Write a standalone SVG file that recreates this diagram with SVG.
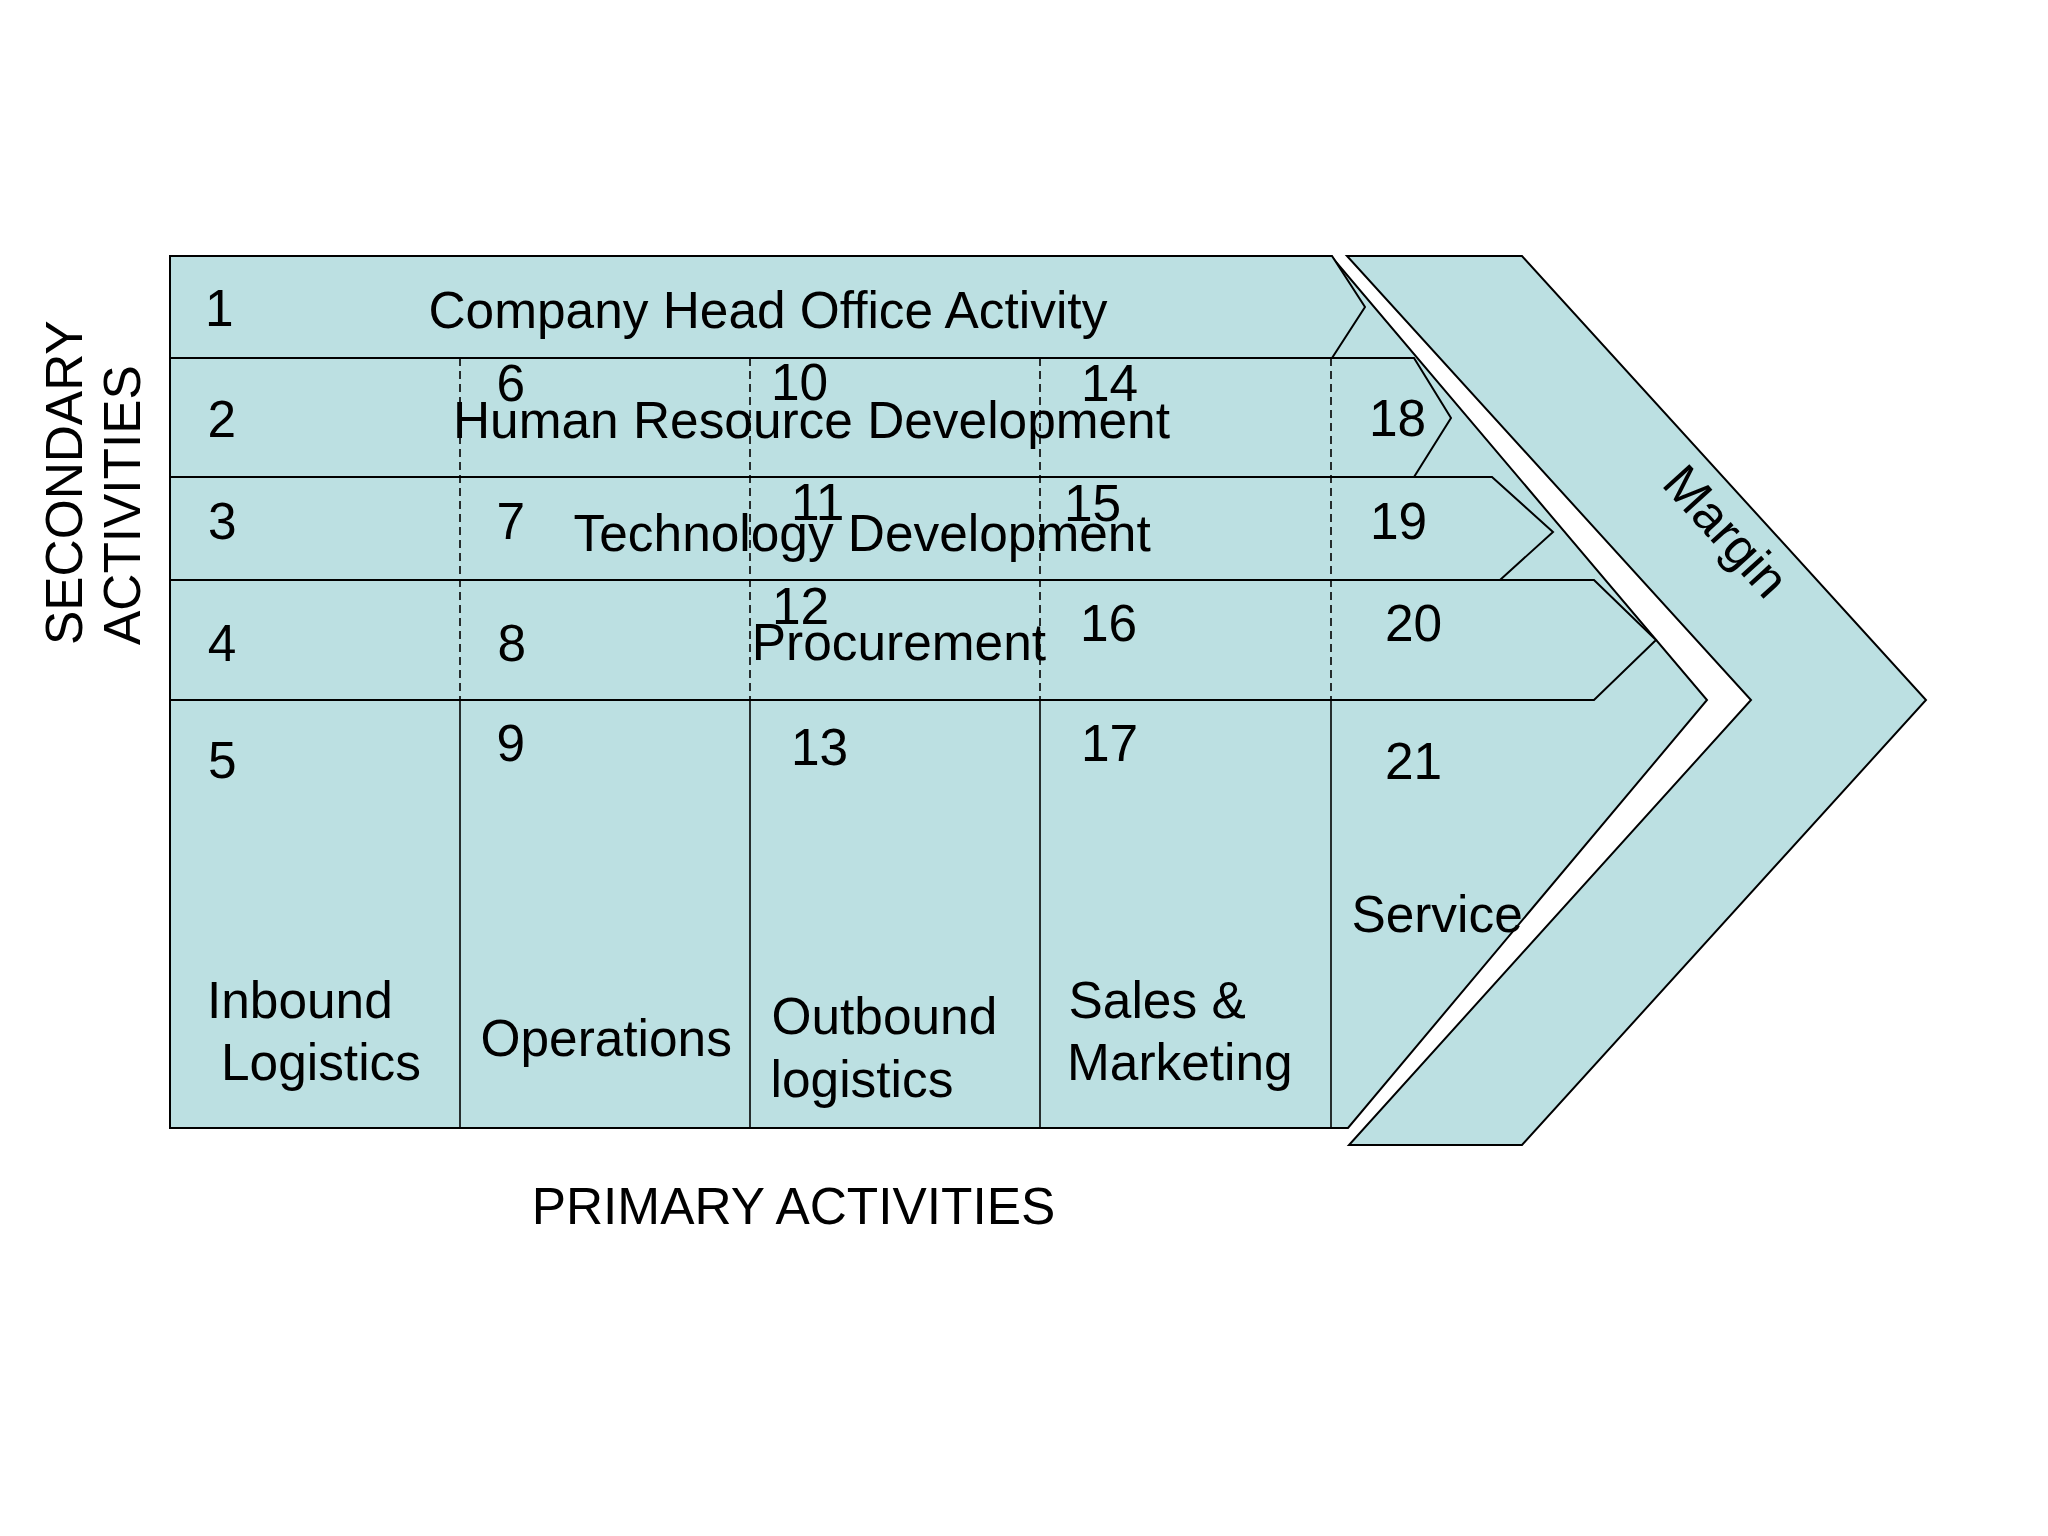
<svg xmlns="http://www.w3.org/2000/svg" width="2048" height="1536" viewBox="0 0 2048 1536">
<style>
.s{fill:#BCE0E2;stroke:#000;stroke-width:2;stroke-linejoin:miter}
.d{stroke:#000;stroke-width:1.6;stroke-dasharray:8 5;fill:none}
.v{stroke:#000;stroke-width:1.6;fill:none}
text{font-family:"Liberation Sans",Arial,sans-serif;font-size:51.4px;fill:#000}
</style>
<rect width="2048" height="1536" fill="#fff"/>
<g id="margin">
<polygon class="s" points="1347,256 1522,256 1926,700 1522,1145 1349,1145 1751,700"/>
<text transform="translate(1713,543) rotate(47.9)" text-anchor="middle">Margin</text>
</g>
<g id="body">
<polygon class="s" points="170,256 1331,256 1707,700 1348,1128 170,1128"/>
</g>
<g id="row1">
<polygon class="s" points="170,256 1332,256 1365,307 1332,358 170,358"/>
</g>
<g id="row2">
<polygon class="s" points="170,358 1414,358 1451,418 1414,477 170,477"/>
</g>
<g id="row3">
<polygon class="s" points="170,477 1492,477 1553,532 1500,580 170,580"/>
</g>
<g id="row4">
<polygon class="s" points="170,580 1594,580 1656,640 1594,700 170,700"/>
</g>
<g id="connectors">
<line class="d" x1="460" y1="358" x2="460" y2="700"/>
<line class="d" x1="750" y1="358" x2="750" y2="700"/>
<line class="d" x1="1040" y1="358" x2="1040" y2="700"/>
<line class="d" x1="1331" y1="358" x2="1331" y2="700"/>
<line class="v" x1="460" y1="700" x2="460" y2="1128"/>
<line class="v" x1="750" y1="700" x2="750" y2="1128"/>
<line class="v" x1="1040" y1="700" x2="1040" y2="1128"/>
<line class="v" x1="1331" y1="700" x2="1331" y2="1128"/>
</g>
<g id="labels-row1">
<text x="205" y="326">1</text>
<text x="428.5" y="328">Company Head Office Activity</text>
</g>
<g id="labels-row2">
<text x="207.5" y="437">2</text>
<text x="496.5" y="401">6</text>
<text x="771" y="400">10</text>
<text x="1081" y="401">14</text>
<text x="1369" y="436">18</text>
<text x="453" y="438">Human Resource Development</text>
</g>
<g id="labels-row3">
<text x="208" y="539">3</text>
<text x="496.5" y="539">7</text>
<text x="791" y="520">11</text>
<text x="1064" y="521">15</text>
<text x="1370" y="539">19</text>
<text x="573.6" y="551">Technology Development</text>
</g>
<g id="labels-row4">
<text x="207.7" y="661">4</text>
<text x="497.5" y="661">8</text>
<text x="772" y="624">12</text>
<text x="1080" y="641">16</text>
<text x="1385" y="641">20</text>
<text x="751.8" y="660">Procurement</text>
</g>
<g id="primary">
<text x="208" y="778">5</text>
<text x="496.5" y="761">9</text>
<text x="791" y="765">13</text>
<text x="1081" y="761">17</text>
<text x="1385" y="779">21</text>
<text x="207" y="1018">Inbound</text>
<text x="221" y="1080">Logistics</text>
<text x="480.5" y="1056">Operations</text>
<text x="771.5" y="1034">Outbound</text>
<text x="770.6" y="1097">logistics</text>
<text x="1068.6" y="1018">Sales &amp;</text>
<text x="1067" y="1080">Marketing</text>
<text x="1351.4" y="932">Service</text>
</g>
<g id="axis-labels">
<text transform="translate(82,645) rotate(-90)">SECONDARY</text>
<text transform="translate(140,645) rotate(-90)">ACTIVITIES</text>
<text x="531.7" y="1224">PRIMARY ACTIVITIES</text>
</g>
</svg>
